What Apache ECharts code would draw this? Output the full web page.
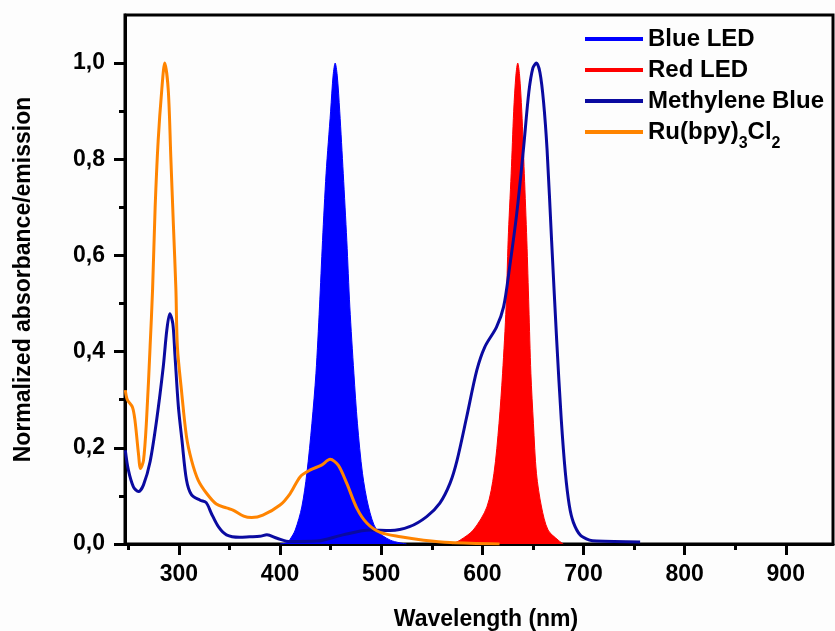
<!DOCTYPE html>
<html>
<head>
<meta charset="utf-8">
<script src="https://cdn.jsdelivr.net/npm/echarts@6/dist/echarts.min.js"></script>
<style>
  html, body { margin: 0; padding: 0; background: #fdfdfd; }
  #chart { width: 835px; height: 631px; }
</style>
</head>
<body>
<div id="chart"></div>
<script>
// spectra: [wavelength nm, normalized value]
const blueLed = [
  [400, 0], [407, 0.003], [410, 0.01], [415, 0.029], [421.5, 0.077], [426.5, 0.147],
  [431.5, 0.251], [435.5, 0.355], [439, 0.493], [442, 0.631], [445.5, 0.77], [450, 0.9],
  [452.5, 0.975], [454.5, 1.0], [456.5, 0.975], [459, 0.9], [462.5, 0.77], [466, 0.631],
  [469, 0.493], [473, 0.355], [476.5, 0.251], [481.5, 0.147], [487.5, 0.077], [495.5, 0.029],
  [509, 0.008], [525, 0]
];
const redLed = [
  [570, 0], [578, 0.008], [591, 0.029], [604.5, 0.077], [611.5, 0.147], [616.5, 0.251],
  [620, 0.355], [623.5, 0.493], [625.5, 0.631], [628.5, 0.77], [631, 0.9], [633.2, 0.975],
  [635, 1.0], [636.8, 0.975], [639, 0.9], [641.5, 0.77], [644, 0.631], [646, 0.493],
  [648, 0.355], [650.5, 0.251], [653.5, 0.147], [658.5, 0.077], [665, 0.029], [675, 0.008],
  [680, 0]
];
const methyleneBlue = [
  [247, 0.195], [250, 0.154], [255, 0.119], [260, 0.109], [265, 0.123], [271.5, 0.171],
  [278, 0.258], [284.5, 0.368], [288, 0.444], [291, 0.479], [294, 0.458], [296, 0.396],
  [299.5, 0.285], [303, 0.216], [307.5, 0.133], [312.5, 0.102], [321, 0.091], [327, 0.086],
  [332, 0.064], [339, 0.036], [347, 0.019], [360, 0.014], [370, 0.015], [380, 0.016],
  [387, 0.019], [397, 0.012], [410, 0.005], [436, 0.006], [462, 0.019], [489, 0.029],
  [509, 0.028], [528, 0.036], [545, 0.057], [558, 0.085], [568, 0.126], [575, 0.174],
  [584.5, 0.264], [594.5, 0.361], [602.5, 0.41], [614, 0.451], [621, 0.493], [627, 0.576],
  [634, 0.687], [640.5, 0.818], [646, 0.94], [650, 0.99], [653.5, 1.0], [657, 0.98],
  [660.5, 0.92], [664, 0.82], [668.5, 0.63], [673.5, 0.424], [678, 0.26], [682, 0.15],
  [686, 0.08], [690, 0.045], [697, 0.018], [706, 0.008], [713, 0.006], [756, 0.004]
];
const ruBpy = [
  [247, 0.32], [249, 0.30], [254, 0.285], [256.5, 0.258], [260, 0.188], [262, 0.157],
  [265, 0.174], [268, 0.258], [271.5, 0.41], [274, 0.531], [276.5, 0.70], [279.5, 0.839],
  [283, 0.943], [286, 1.0], [289.5, 0.943], [292, 0.804], [294.5, 0.666], [297, 0.531],
  [298.5, 0.41], [302.5, 0.32], [307.5, 0.223], [312.5, 0.174], [319, 0.133], [327.5, 0.105],
  [337, 0.083], [347, 0.075], [354, 0.07], [364, 0.058], [372, 0.055], [383, 0.060],
  [400, 0.081], [410, 0.105], [420, 0.14], [430, 0.154], [441, 0.164], [449.5, 0.176],
  [457.5, 0.164], [466, 0.126], [476, 0.074], [486, 0.043], [499, 0.024], [519, 0.015],
  [542, 0.008], [568, 0.003], [617, 0]
];

const seriesNames = ['Blue LED', 'Red LED', 'Methylene Blue', 'Ru(bpy)3Cl2'];
const xMajorTicks = [300, 400, 500, 600, 700, 800, 900];
const xMinorTicks = [250, 350, 450, 550, 650, 750, 850];
const yMajorTicks = [0, 0.2, 0.4, 0.6, 0.8, 1.0];
const yMinorTicks = [0.1, 0.3, 0.5, 0.7, 0.9];

const X_MIN = 246.7, X_MAX = 946.7;
const FONT = '"Liberation Sans", Arial, sans-serif';
const C = { blue: '#0000ff', red: '#ff0000', navy: '#0a0aa0', orange: '#ff8400' };

const chart = echarts.init(document.getElementById('chart'), null, { renderer: 'canvas' });

const axisLine = { show: true, lineStyle: { color: '#000', width: 3 } };
const tickStyle = { color: '#000', width: 3 };
const labelFont = { color: '#000', fontFamily: FONT, fontWeight: 'bold', fontSize: 23 };

const option = {
  backgroundColor: '#fdfdfd',
  animation: false,
  grid: {
    left: 125, right: 2, top: 15, bottom: 87, outerBoundsMode: 'none',
    show: true, borderColor: '#000', borderWidth: 3, backgroundColor: 'transparent'
  },
  legend: {
    left: 585, top: 25, orient: 'vertical', padding: 0,
    itemWidth: 58, itemHeight: 4, itemGap: 3,
    selectedMode: false,
    data: [
      { name: seriesNames[0], icon: 'rect', itemStyle: { color: C.blue } },
      { name: seriesNames[1], icon: 'rect', itemStyle: { color: C.red } },
      { name: seriesNames[2], icon: 'rect', itemStyle: { color: C.navy } },
      { name: seriesNames[3], icon: 'rect', itemStyle: { color: C.orange } }
    ],
    // subscripts pushed down with top padding
    formatter: name => name === 'Ru(bpy)3Cl2' ? 'Ru(bpy){s|3}Cl{s|2}' : name,
    textStyle: {
      color: '#000', fontFamily: FONT, fontWeight: 'bold', fontSize: 24, lineHeight: 28,
      rich: {
        s: { color: '#000', fontFamily: FONT, fontWeight: 'bold', fontSize: 16, padding: [24, 0, 0, 0] }
      }
    }
  },
  xAxis: [
    {
      type: 'value', min: X_MIN, max: X_MAX,
      name: 'Wavelength (nm)', nameLocation: 'middle', nameGap: 64,
      nameTextStyle: { ...labelFont, padding: [0, 0, 0, 14] },
      axisLine,
      axisTick: { show: true, inside: false, length: 11, lineStyle: tickStyle, customValues: xMajorTicks },
      axisLabel: { ...labelFont, margin: 19, customValues: xMajorTicks },
      splitLine: { show: false }
    },
    {
      type: 'value', min: X_MIN, max: X_MAX, position: 'bottom',
      axisLine: { show: false },
      axisTick: { show: true, inside: false, length: 6, lineStyle: tickStyle, customValues: xMinorTicks },
      axisLabel: { show: false },
      splitLine: { show: false }
    }
  ],
  yAxis: [
    {
      type: 'value', min: 0, max: 1.1,
      name: 'Normalized absorbance/emission', nameLocation: 'middle', nameGap: 90,
      nameTextStyle: { ...labelFont, fontSize: 23 },
      axisLine,
      axisTick: { show: true, inside: false, length: 11, lineStyle: tickStyle, customValues: yMajorTicks },
      axisLabel: { ...labelFont, margin: 20, customValues: yMajorTicks, formatter: v => v.toFixed(1).replace('.', ',') },
      splitLine: { show: false }
    },
    {
      type: 'value', min: 0, max: 1.1, position: 'left',
      axisLine: { show: false },
      axisTick: { show: true, inside: false, length: 6, lineStyle: tickStyle, customValues: yMinorTicks },
      axisLabel: { show: false },
      splitLine: { show: false }
    }
  ],
  series: [
    {
      name: seriesNames[0], type: 'line', data: blueLed, smooth: 0.3, showSymbol: false,
      itemStyle: { color: C.blue }, lineStyle: { color: C.blue, width: 1 },
      areaStyle: { color: C.blue, opacity: 1 }, z: 2
    },
    {
      name: seriesNames[1], type: 'line', data: redLed, smooth: 0.3, showSymbol: false,
      itemStyle: { color: C.red }, lineStyle: { color: C.red, width: 1 },
      areaStyle: { color: C.red, opacity: 1 }, z: 2
    },
    {
      name: seriesNames[2], type: 'line', data: methyleneBlue, smooth: 0.3, showSymbol: false,
      itemStyle: { color: C.navy }, lineStyle: { color: C.navy, width: 3 }, z: 3
    },
    {
      name: seriesNames[3], type: 'line', data: ruBpy, smooth: 0.3, showSymbol: false,
      itemStyle: { color: C.orange }, lineStyle: { color: C.orange, width: 3 }, z: 4
    }
  ]
};

chart.setOption(option);
</script>
</body>
</html>
